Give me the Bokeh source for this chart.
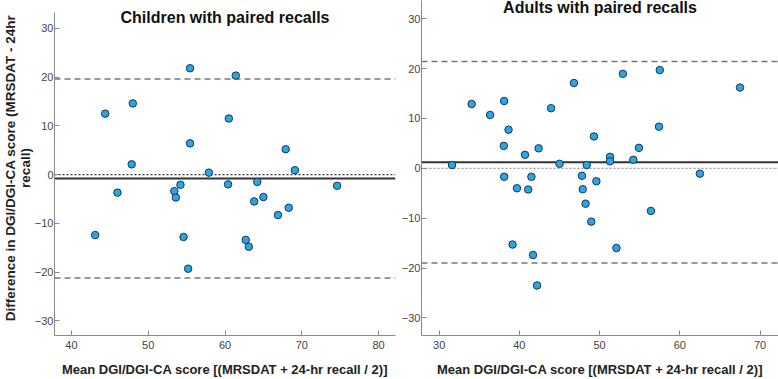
from bokeh.plotting import figure
from bokeh.layouts import row
from bokeh.models import Range1d, Span, Label, FixedTicker, Title
from bokeh.embed import file_html
from bokeh.resources import INLINE

# Bland-Altman data: mean of the two methods (x) and their difference (y)
child_mean = [44.4, 48.0, 47.85, 55.45, 55.45, 61.4, 60.5, 57.9, 67.9, 69.1,
              54.2, 60.4, 64.2, 74.6, 46.0, 53.4, 53.6, 63.8, 65.0, 68.3,
              66.9, 43.1, 54.6, 62.7, 63.1, 55.2]
child_diff = [12.5, 14.6, 2.1, 21.8, 6.4, 20.3, 11.5, 0.4, 5.2, 0.9,
              -2.1, -2.0, -1.5, -2.3, -3.7, -3.4, -4.7, -5.5, -4.6, -6.8,
              -8.3, -12.4, -12.8, -13.4, -14.8, -19.3]

adult_mean = [31.6, 34.05, 36.35, 38.1, 38.65, 38.06, 40.7, 42.4, 43.95, 45.0,
              46.8, 48.4, 49.3, 51.3, 51.3, 52.9, 54.2, 54.9, 57.5, 57.4,
              67.5, 62.5, 38.1, 41.5, 47.8, 49.6, 39.7, 41.1, 47.9, 48.25,
              48.96, 56.4, 39.15, 41.7, 52.1, 42.2]
adult_diff = [0.66, 12.9, 10.7, 13.5, 7.75, 4.5, 2.7, 4.0, 12.05, 0.9,
              17.1, 0.66, 6.4, 2.3, 1.4, 18.95, 1.7, 4.1, 19.7, 8.35,
              16.2, -1.07, -1.7, -1.7, -1.5, -2.6, -4.0, -4.25, -4.2, -7.1,
              -10.7, -8.55, -15.3, -17.4, -16.0, -23.5]

# bias and limits of agreement: [lower, mean, upper]
child_limits = [-21.2, -0.8, 19.6]
adult_limits = [-19.0, 1.2, 21.4]

child_ticks_x = [40, 50, 60, 70, 80]
adult_ticks_x = [30, 40, 50, 60, 70]
ticks_y = [-30, -20, -10, 0, 10, 20, 30]

titles = ["Children with paired recalls", "Adults with paired recalls"]
x_label = "Mean DGI/DGI-CA score [(MRSDAT + 24-hr recall / 2)]"
y_label_lines = ["Difference in DGI/DGI-CA score (MRSDAT - 24hr", "recall)"]

FONT = "Liberation Sans"
AXIS_GREY = "#8a8a8a"


def panel(xs, ys, limits, xr, yr, ybounds, xticks, title, title_y, zero_color,
          y_standoff, **borders):
    p = figure(x_range=Range1d(*xr), y_range=Range1d(*yr), title=None,
               output_backend="svg", toolbar_location=None,
               outline_line_color=None, background_fill_color="white",
               border_fill_color="white", **borders)
    p.grid.visible = False
    for ax in (p.xaxis[0], p.yaxis[0]):
        ax.axis_line_color = AXIS_GREY
        ax.major_tick_line_color = AXIS_GREY
        ax.major_tick_in = 5
        ax.major_tick_out = 0
        ax.minor_tick_line_color = None
        ax.major_label_text_font = FONT
        ax.major_label_text_font_size = "11px"
        ax.major_label_text_color = "#444444"
        ax.axis_label_text_font = FONT
        ax.axis_label_text_font_size = "13px"
        ax.axis_label_text_font_style = "bold"
        ax.axis_label_text_color = "#222222"
    p.xaxis.ticker = FixedTicker(ticks=xticks)
    p.yaxis.ticker = FixedTicker(ticks=ticks_y)
    p.yaxis.bounds = ybounds
    p.xaxis.major_label_standoff = 5
    p.yaxis.major_label_standoff = y_standoff
    p.xaxis.axis_label = x_label
    p.xaxis.axis_label_standoff = 10

    lo, mid, hi = limits
    p.add_layout(Span(location=0, dimension="width", line_color=zero_color,
                      line_dash="2 2", line_width=1.2, level="underlay"))
    for v in (lo, hi):
        p.add_layout(Span(location=v, dimension="width", line_color="#777777",
                          line_dash="6 4", line_width=1.5, level="underlay"))
    p.add_layout(Span(location=mid, dimension="width", line_color="#333333",
                      line_width=2, level="underlay"))

    p.scatter(xs, ys, size=7.5, fill_color="#2aa5e8",
              line_color="#1c3550", line_width=1)

    p.add_layout(Label(x=(xr[0] + xr[1]) / 2, y=title_y, text=title,
                       text_align="center", text_baseline="middle",
                       text_font=FONT, text_font_size="16px",
                       text_font_style="bold", text_color="#111111"))
    return p


p1 = panel(child_mean, child_diff, child_limits, (37.8, 82.2), (-33.0, 35.7),
           (-33.0, 33.25), child_ticks_x, titles[0], 32.3, "#333333", 1,
           width=397, height=379, min_border_left=54, min_border_right=2,
           min_border_top=0, min_border_bottom=41)

# two-line rotated y-axis title in the left margin (inner line first)
for line in reversed(y_label_lines):
    p1.add_layout(Title(text=line, align="center", standoff=-2, offset=6,
                        text_font=FONT, text_font_size="13.5px",
                        text_font_style="bold", text_color="#222222"), "left")

p2 = panel(adult_mean, adult_diff, adult_limits, (27.8, 72.3), (-33.54, 33.66),
           (-33.54, 33.66), adult_ticks_x, titles[1], 32.3, "#999999", 1,
           width=381, height=379, min_border_left=24, min_border_right=0,
           min_border_top=0, min_border_bottom=41)

layout = row(p1, p2, spacing=0)

with open("out.html", "w") as f:
    f.write(file_html(layout, INLINE))
